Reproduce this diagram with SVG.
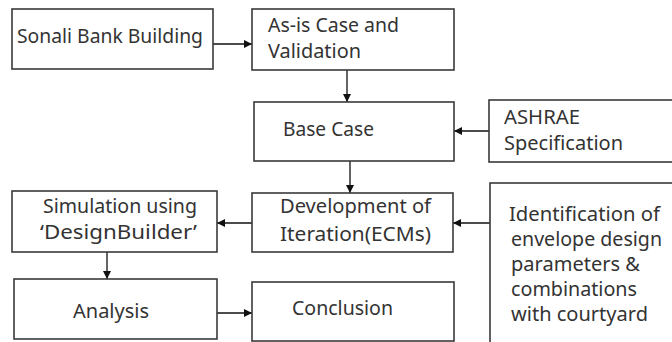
<svg xmlns="http://www.w3.org/2000/svg" width="672" height="342" viewBox="0 0 672 342">
<defs>
<style>
.box{fill:#fff;stroke:#3a3a3a;stroke-width:1.6}
.t{font-family:"Noto Sans","Open Sans","Liberation Sans",sans-serif;font-size:19.5px;fill:#333}
.c{stroke:#111;stroke-width:1.3;fill:none;marker-end:url(#ah)}
</style>
<marker id="ah" viewBox="0 0 10 10" refX="10" refY="5" markerWidth="9" markerHeight="8" markerUnits="userSpaceOnUse" orient="auto">
<path d="M0,0 L10,5 L0,10 z" fill="#111"/>
</marker>
</defs>
<rect width="672" height="342" fill="#fff"/>
<g id="connectors">
<line class="c" x1="213" y1="44" x2="252" y2="44"/>
<line class="c" x1="347" y1="70" x2="347" y2="102"/>
<line class="c" x1="489" y1="131" x2="454" y2="131"/>
<line class="c" x1="350" y1="161" x2="350" y2="193"/>
<line class="c" x1="252" y1="223" x2="217" y2="223"/>
<line class="c" x1="490" y1="223" x2="453" y2="223"/>
<line class="c" x1="107" y1="252" x2="107" y2="279"/>
<line class="c" x1="217" y1="313" x2="252" y2="313"/>
</g>
<g id="sonali">
<rect class="box" x="12" y="9" width="201" height="60"/>
<text class="t" x="17" y="43" textLength="186" lengthAdjust="spacingAndGlyphs">Sonali Bank Building</text>
</g>
<g id="asis">
<rect class="box" x="252" y="9" width="202" height="61"/>
<text class="t" x="268" y="32" textLength="131" lengthAdjust="spacingAndGlyphs">As-is Case and</text>
<text class="t" x="268" y="58" textLength="93" lengthAdjust="spacingAndGlyphs">Validation</text>
</g>
<g id="base">
<rect class="box" x="254" y="102" width="200" height="59"/>
<text class="t" x="283" y="136" textLength="91" lengthAdjust="spacingAndGlyphs">Base Case</text>
</g>
<g id="ashrae">
<rect class="box" x="489" y="100" width="200" height="62"/>
<text class="t" x="504" y="124" textLength="76" lengthAdjust="spacingAndGlyphs">ASHRAE</text>
<text class="t" x="504" y="150" textLength="119" lengthAdjust="spacingAndGlyphs">Specification</text>
</g>
<g id="development">
<rect class="box" x="252" y="193" width="201" height="59"/>
<text class="t" x="280" y="213" textLength="151" lengthAdjust="spacingAndGlyphs">Development of</text>
<text class="t" x="280" y="241" textLength="151" lengthAdjust="spacingAndGlyphs">Iteration(ECMs)</text>
</g>
<g id="simulation">
<rect class="box" x="12" y="191" width="205" height="61"/>
<text class="t" x="43" y="213" textLength="154" lengthAdjust="spacingAndGlyphs">Simulation using</text>
<text class="t" x="40" y="239" textLength="157" lengthAdjust="spacingAndGlyphs">‘DesignBuilder’</text>
</g>
<g id="identification">
<rect class="box" x="490" y="183" width="200" height="180"/>
<text class="t" x="509" y="221" textLength="151" lengthAdjust="spacingAndGlyphs">Identification of</text>
<text class="t" x="511" y="246" textLength="151" lengthAdjust="spacingAndGlyphs">envelope design</text>
<text class="t" x="511" y="271" textLength="129" lengthAdjust="spacingAndGlyphs">parameters &amp;</text>
<text class="t" x="511" y="296" textLength="126" lengthAdjust="spacingAndGlyphs">combinations</text>
<text class="t" x="511" y="321" textLength="137" lengthAdjust="spacingAndGlyphs">with courtyard</text>
</g>
<g id="analysis">
<rect class="box" x="14" y="279" width="203" height="60"/>
<text class="t" x="73" y="318" textLength="76" lengthAdjust="spacingAndGlyphs">Analysis</text>
</g>
<g id="conclusion">
<rect class="box" x="252" y="282" width="202" height="59"/>
<text class="t" x="292" y="315" textLength="101" lengthAdjust="spacingAndGlyphs">Conclusion</text>
</g>
</svg>
